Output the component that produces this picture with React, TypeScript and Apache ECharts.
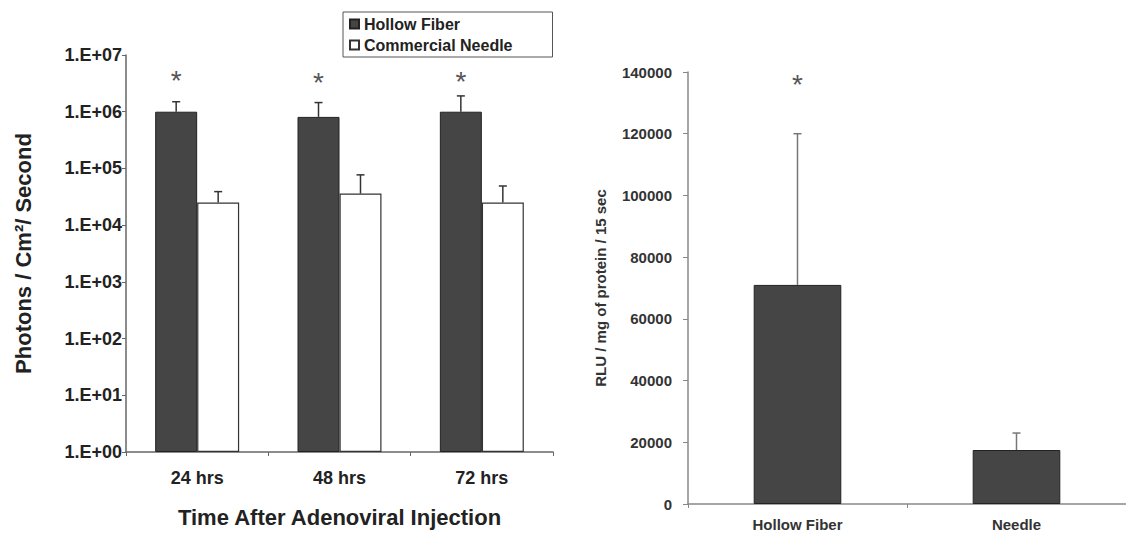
import React, { useEffect, useRef } from "react";
import * as echarts from "echarts";

// Left panel data
const timeCategories = ["24 hrs", "48 hrs", "72 hrs"];
const hollowFiberPhotons = [1.0e6, 8.1e5, 1.0e6];
const hollowFiberPhotonsErrTop = [1.5e6, 1.45e6, 1.9e6];
const needlePhotons = [2.5e4, 3.6e4, 2.5e4];
const needlePhotonsErrTop = [3.9e4, 7.7e4, 4.9e4];
const leftAsteriskLevel = [3.6e6, 3.3e6, 3.4e6];

// Right panel data
const deviceCategories = ["Hollow Fiber", "Needle"];
const rluValues = [71000, 17500];
const rluErrTop = [120000, 23000];
const rightAsteriskLevel = [136000];

const FONT = "'Liberation Sans', Arial, Helvetica, sans-serif";

export default function App() {
  const ref = useRef<HTMLDivElement>(null);
  useEffect(() => {
    document.body.style.margin = "0";
    const chart = echarts.init(ref.current!, undefined, { renderer: "svg" });

    const errorRender = (offsetSign: number, frac: number, color: string) =>
      (params: any, api: any) => {
        const cat = api.value(0);
        const base = api.coord([cat, api.value(1)]);
        const top = api.coord([cat, api.value(2)]);
        const cw = api.size([1, 0])[0];
        const x = base[0] + offsetSign * cw * frac;
        return {
          type: "group",
          children: [
            { type: "line", shape: { x1: x, y1: base[1], x2: x, y2: top[1] }, style: { stroke: color, lineWidth: 1.5 } },
            { type: "line", shape: { x1: x - 4, y1: top[1], x2: x + 4, y2: top[1] }, style: { stroke: color, lineWidth: 1.5 } },
          ],
        };
      };

    const asteriskRender = (offsetSign: number, frac: number, size: number) =>
      (params: any, api: any) => {
        const p = api.coord([api.value(0), api.value(1)]);
        const cw = api.size([1, 0])[0];
        return {
          type: "text",
          x: p[0] + offsetSign * cw * frac,
          y: p[1],
          style: { text: "*", fontSize: size, fontFamily: FONT, fill: "#555", align: "center", verticalAlign: "middle" },
        };
      };

    const barFrac = 0.295 / 2;

    chart.setOption({
      animation: false,
      backgroundColor: "#fff",
      textStyle: { fontFamily: FONT },
      legend: {
        data: ["Hollow Fiber", "Commercial Needle"],
        orient: "vertical",
        left: 343,
        top: 12,
        borderColor: "#555",
        borderWidth: 1,
        borderRadius: 0,
        padding: [4, 40, 4, 6],
        itemGap: 5,
        itemWidth: 9,
        itemHeight: 9,
        icon: "rect",
        textStyle: { fontSize: 16, fontWeight: "bold", color: "#222", fontFamily: FONT },
        selectedMode: false,
      },
      grid: [
        { left: 126, top: 55, width: 427, height: 397 },
        { left: 688, top: 72, width: 442, height: 432 },
      ],
      xAxis: [
        {
          type: "category",
          gridIndex: 0,
          data: timeCategories,
          axisLine: { lineStyle: { color: "#666", width: 1.5 } },
          axisTick: { show: true, length: 4, lineStyle: { color: "#666" } },
          axisLabel: { fontSize: 18, fontWeight: "bold", color: "#222", margin: 17, fontFamily: FONT },
          name: "Time After Adenoviral Injection",
          nameLocation: "middle",
          nameGap: 54,
          nameTextStyle: { fontSize: 22, fontWeight: "bold", color: "#222", fontFamily: FONT },
        },
        {
          type: "category",
          gridIndex: 1,
          data: deviceCategories,
          axisLine: { lineStyle: { color: "#888", width: 1.5 } },
          axisTick: { show: true, length: 4, lineStyle: { color: "#888" } },
          axisLabel: { fontSize: 15, fontWeight: "bold", color: "#333", margin: 13, fontFamily: FONT },
        },
      ],
      yAxis: [
        {
          type: "log",
          gridIndex: 0,
          logBase: 10,
          min: 1,
          max: 1e7,
          interval: 1,
          splitLine: { show: false },
          axisLine: { show: true, lineStyle: { color: "#666", width: 1.5 } },
          axisTick: { show: true, length: 4, lineStyle: { color: "#666" } },
          axisLabel: {
            fontSize: 18,
            fontWeight: "bold",
            color: "#222",
            margin: 4,
            fontFamily: FONT,
            formatter: (v: number) => "1.E+" + String(Math.round(Math.log10(v))).padStart(2, "0"),
          },
          name: "Photons / Cm²/ Second",
          nameLocation: "middle",
          nameGap: 92,
          nameTextStyle: { fontSize: 22, fontWeight: "bold", color: "#222", fontFamily: FONT },
        },
        {
          type: "value",
          gridIndex: 1,
          min: 0,
          max: 140000,
          interval: 20000,
          splitLine: { show: false },
          axisLine: { show: true, lineStyle: { color: "#888", width: 1.5 } },
          axisTick: { show: true, length: 5, lineStyle: { color: "#888" } },
          axisLabel: {
            fontSize: 15,
            fontWeight: "bold",
            color: "#333",
            margin: 16,
            fontFamily: FONT,
            formatter: (v: number) => String(v),
          },
          name: "RLU / mg of protein / 15 sec",
          nameLocation: "middle",
          nameGap: 80,
          nameTextStyle: { fontSize: 15, fontWeight: "bold", color: "#333", fontFamily: FONT },
        },
      ],
      series: [
        {
          name: "Hollow Fiber",
          type: "bar",
          xAxisIndex: 0,
          yAxisIndex: 0,
          data: hollowFiberPhotons,
          barGap: "0%",
          barCategoryGap: "41%",
          itemStyle: { color: "#454545", borderColor: "#222", borderWidth: 1 },
        },
        {
          name: "Commercial Needle",
          type: "bar",
          xAxisIndex: 0,
          yAxisIndex: 0,
          data: needlePhotons,
          barGap: "0%",
          barCategoryGap: "41%",
          itemStyle: { color: "#fff", borderColor: "#333", borderWidth: 1.2 },
        },
        {
          type: "custom",
          xAxisIndex: 0,
          yAxisIndex: 0,
          renderItem: errorRender(-1, barFrac, "#333"),
          data: hollowFiberPhotons.map((v, i) => [i, v, hollowFiberPhotonsErrTop[i]]),
          z: 5,
        },
        {
          type: "custom",
          xAxisIndex: 0,
          yAxisIndex: 0,
          renderItem: errorRender(1, barFrac, "#333"),
          data: needlePhotons.map((v, i) => [i, v, needlePhotonsErrTop[i]]),
          z: 5,
        },
        {
          type: "custom",
          xAxisIndex: 0,
          yAxisIndex: 0,
          renderItem: asteriskRender(-1, barFrac, 28),
          data: leftAsteriskLevel.map((v, i) => [i, v]),
          z: 5,
        },
        {
          name: "RLU",
          type: "bar",
          xAxisIndex: 1,
          yAxisIndex: 1,
          data: rluValues,
          barWidth: "40%",
          itemStyle: { color: "#454545", borderColor: "#222", borderWidth: 1 },
        },
        {
          type: "custom",
          xAxisIndex: 1,
          yAxisIndex: 1,
          renderItem: errorRender(0, 0, "#777"),
          data: rluValues.map((v, i) => [i, v, rluErrTop[i]]),
          z: 5,
        },
        {
          type: "custom",
          xAxisIndex: 1,
          yAxisIndex: 1,
          renderItem: asteriskRender(0, 0, 28),
          data: rightAsteriskLevel.map((v, i) => [i, v]),
          z: 5,
        },
      ],
    });
    return () => chart.dispose();
  }, []);
  return <div ref={ref} style={{ width: 1126, height: 538 }} />;
}
